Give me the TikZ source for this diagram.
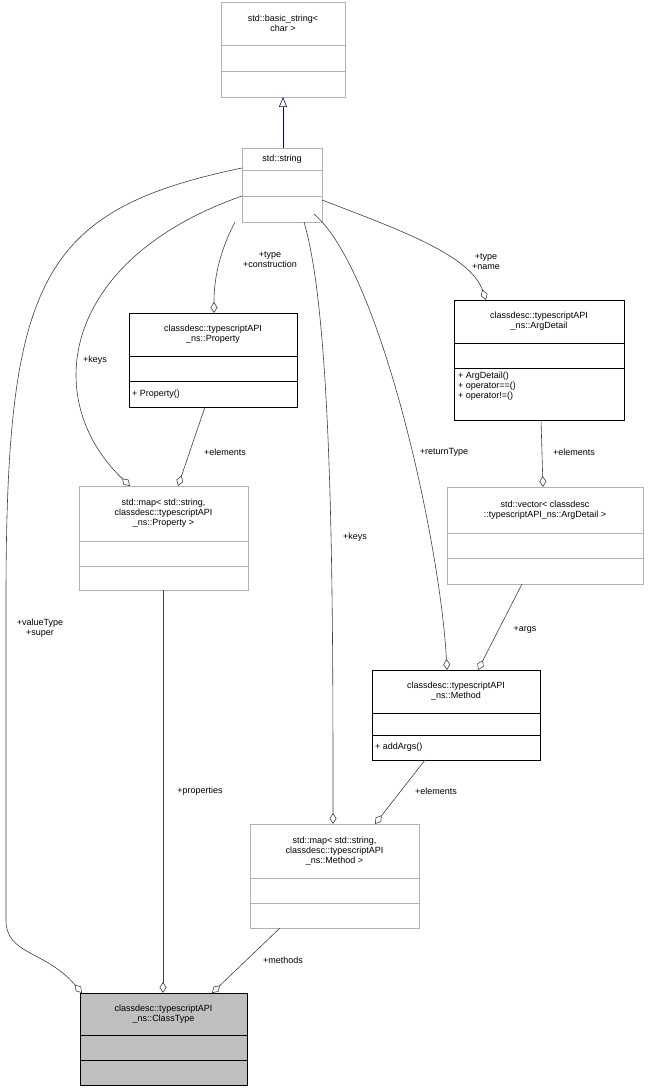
\documentclass[tikz,border=0pt]{standalone}
\usepackage{fontspec}
\setmainfont{Liberation Sans}
\usetikzlibrary{arrows.meta}
\begin{document}
\begin{tikzpicture}[x=1pt,y=-1pt,
  lbl/.style={font=\fontsize{9}{10}\selectfont,align=center,inner sep=1pt},
  edge/.style={draw=black!75,line width=0.6pt},
  agg/.style={edge,-{Diamond[open,length=11pt,width=7pt]}},
  inh/.style={draw=blue!50!black,line width=0.6pt,-{Triangle[open,length=10pt,width=8pt]}}]
\useasboundingbox (0,0) rectangle (648,1091);
% box macro: name, x1,y1,x2,y2, ya, yb, style, title, body
\newcommand\umlbox[9]{%
  \path[#8] (#2,#3) rectangle (#4,#5);
  \draw[#8,fill=none] (#2,#6) -- (#4,#6) (#2,#7) -- (#4,#7);
  \node[lbl,anchor=center] (#1) at ({(#2+#4)/2},{(#3+#6)/2}) {#9};
  \coordinate (#1n) at ({(#2+#4)/2},#3);
}
\tikzset{gbox/.style={draw=black!30,fill=white,line width=0.6pt},
         bbox/.style={draw=black,fill=white,line width=0.6pt},
         cbox/.style={draw=black,fill=black!25,line width=0.6pt}}
\umlbox{bs}{221}{2}{345}{97}{45}{71}{gbox}{std::basic\_string\textless\\char \textgreater}
\umlbox{str}{242}{148}{322}{222}{170}{196}{gbox}{std::string}
\umlbox{prop}{129}{313}{297}{407}{356}{381}{bbox}{classdesc::typescriptAPI\\\_ns::Property}
\node[lbl,anchor=west] at (131,394) {+ Property()};
\umlbox{arg}{454}{300}{624}{420}{343}{368}{bbox}{classdesc::typescriptAPI\\\_ns::ArgDetail}
\node[lbl,anchor=north west,align=left] at (457,371) {+ ArgDetail()\\+ operator==()\\+ operator!=()};
\umlbox{mapp}{79}{486}{248}{590}{541}{566}{gbox}{std::map\textless{} std::string,\\classdesc::typescriptAPI\\\_ns::Property \textgreater}
\umlbox{vec}{447}{487}{643}{584}{533}{558}{gbox}{std::vector\textless{} classdesc\\::typescriptAPI\_ns::ArgDetail \textgreater}
\umlbox{meth}{372}{670}{540}{760}{713}{735}{bbox}{classdesc::typescriptAPI\\\_ns::Method}
\node[lbl,anchor=west] at (374,747) {+ addArgs()};
\umlbox{mapm}{250}{824}{419}{928}{878}{903}{gbox}{std::map\textless{} std::string,\\classdesc::typescriptAPI\\\_ns::Method \textgreater}
\umlbox{ct}{80}{993}{247}{1085}{1035}{1060}{cbox}{classdesc::typescriptAPI\\\_ns::ClassType}
% connector endpoints
\coordinate (s1) at (283,148); \coordinate (b1) at (283,97);
\draw[inh] (s1) -- (b1);
\coordinate (sA) at (235,222); \coordinate (pA) at (214,313);
\draw[agg] (sA) .. controls (215,260) and (214,290) .. (pA);
\node[lbl] at (270,260) {+type\\+construction};
\coordinate (sB) at (242,196); \coordinate (mpA) at (130,486);
\draw[agg] (sB) .. controls (60,260) and (40,400) .. (mpA);
\node[lbl] at (95,360) {+keys};
\coordinate (sC) at (242,168); \coordinate (ctA) at (82,993);
\draw[agg] (sC) .. controls (40,210) and (6,280) .. (6,600) -- (6,920) .. controls (6,955) and (45,950) .. (ctA);
\node[lbl] at (40,628) {+valueType\\+super};
\coordinate (sD) at (322,200); \coordinate (aA) at (486,300);
\draw[agg] (sD) .. controls (400,230) and (470,255) .. (aA);
\node[lbl] at (486,262) {+type\\+name};
\coordinate (sE) at (314,214); \coordinate (mA) at (447,670);
\draw[agg] (sE) .. controls (380,270) and (440,540) .. (mA);
\node[lbl] at (444,452) {+returnType};
\coordinate (sF) at (304,222); \coordinate (mmA) at (333,824);
\draw[agg] (sF) .. controls (333,320) and (333,600) .. (mmA);
\node[lbl] at (355,537) {+keys};
\coordinate (pB) at (205,407); \coordinate (mpB) at (178,486);
\draw[agg] (pB) -- (mpB);
\node[lbl] at (225,452) {+elements};
\coordinate (aB) at (541,420); \coordinate (vA) at (543,487);
\draw[agg] (aB) -- (vA);
\node[lbl] at (574,452) {+elements};
\coordinate (vB) at (522,584); \coordinate (mB) at (478,670);
\draw[agg] (vB) -- (mB);
\node[lbl] at (525,630) {+args};
\coordinate (mC) at (425,760); \coordinate (mmB) at (375,824);
\draw[agg] (mC) -- (mmB);
\node[lbl] at (436,791) {+elements};
\coordinate (mpC) at (163,590); \coordinate (ctB) at (163,993);
\draw[agg] (mpC) -- (ctB);
\node[lbl] at (200,791) {+properties};
\coordinate (mmC) at (280,928); \coordinate (ctC) at (212,993);
\draw[agg] (mmC) -- (ctC);
\node[lbl] at (283,960) {+methods};
\end{tikzpicture}
\end{document}
